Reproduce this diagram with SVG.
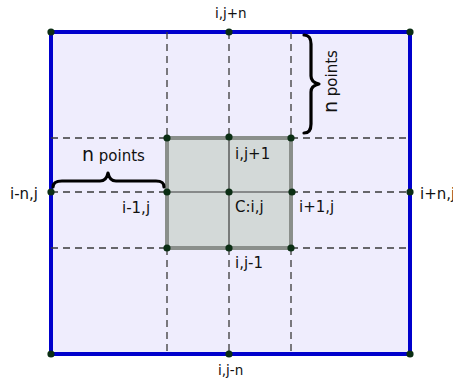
<svg xmlns="http://www.w3.org/2000/svg" width="453" height="382" viewBox="0 0 453 382">
<defs>
<style>
.lbl{font-family:"DejaVu Sans","Liberation Sans",sans-serif;font-size:15px;fill:#111}
.sm{font-size:13.5px}
.dash{stroke:#3a3a3a;stroke-width:1.3;stroke-dasharray:7,5;fill:none}
.pt{fill:#0b2e14}
.brace{fill:none;stroke:#000;stroke-width:3.2;stroke-linecap:round;stroke-linejoin:round}
.grid{stroke:#3c3c3c;stroke-width:1.2}
</style>
</defs>
<rect width="453" height="382" fill="#ffffff"/>
<g id="domain">
<rect x="51" y="32" width="359" height="322" fill="#efedfd" stroke="#0000cc" stroke-width="4"/>
</g>
<g id="connectors">
<line class="dash" x1="167" y1="32" x2="167" y2="138"/>
<line class="dash" x1="229" y1="32" x2="229" y2="138"/>
<line class="dash" x1="291" y1="32" x2="291" y2="138"/>
<line class="dash" x1="167" y1="248" x2="167" y2="354"/>
<line class="dash" x1="229" y1="248" x2="229" y2="354"/>
<line class="dash" x1="291" y1="248" x2="291" y2="354"/>
<line class="dash" x1="51" y1="138" x2="167" y2="138"/>
<line class="dash" x1="51" y1="192" x2="167" y2="192"/>
<line class="dash" x1="51" y1="248" x2="167" y2="248"/>
<line class="dash" x1="291" y1="138" x2="410" y2="138"/>
<line class="dash" x1="291" y1="192" x2="410" y2="192"/>
<line class="dash" x1="291" y1="248" x2="410" y2="248"/>
</g>
<g id="stencil">
<rect x="167" y="138" width="124" height="110" fill="#d3d9d8" stroke="#8a8f8b" stroke-width="4"/>
<line class="grid" x1="229" y1="138" x2="229" y2="248"/>
<line class="grid" x1="167" y1="192" x2="291" y2="192"/>
</g>
<g id="braces">
<path class="brace" d="M53,187 C53,182 57,181 62,181 L100,181 C105,181 107,178 108,173 C109,178 111,181 116,181 L156,181 C161,181 164,182 164,187"/>
<path class="brace" d="M304,35 C309,35 311,39 311,44 L311,76 C311,81 314,83 319,84 C314,85 311,87 311,92 L311,124 C311,129 309,133 304,133"/>
</g>
<g id="points">
<circle class="pt" cx="51" cy="32" r="3.6"/>
<circle class="pt" cx="229" cy="32" r="3.6"/>
<circle class="pt" cx="410" cy="32" r="3.6"/>
<circle class="pt" cx="167" cy="138" r="3.6"/>
<circle class="pt" cx="229" cy="137" r="3.6"/>
<circle class="pt" cx="291" cy="138" r="3.6"/>
<circle class="pt" cx="51" cy="192" r="3.6"/>
<circle class="pt" cx="167" cy="192" r="3.6"/>
<circle class="pt" cx="229" cy="192" r="3.6"/>
<circle class="pt" cx="292" cy="192" r="3.6"/>
<circle class="pt" cx="410" cy="192" r="3.6"/>
<circle class="pt" cx="167" cy="248" r="3.6"/>
<circle class="pt" cx="229" cy="248" r="3.6"/>
<circle class="pt" cx="291" cy="248" r="3.6"/>
<circle class="pt" cx="51" cy="354" r="3.6"/>
<circle class="pt" cx="229" cy="354" r="3.6"/>
<circle class="pt" cx="410" cy="354" r="3.6"/>
</g>
<g id="labels">
<text class="lbl sm" x="215" y="18">i,j+n</text>
<text class="lbl sm" x="218" y="375">i,j-n</text>
<text class="lbl" x="10" y="199">i-n,j</text>
<text class="lbl" x="420" y="199">i+n,j</text>
<text class="lbl" x="235" y="159">i,j+1</text>
<text class="lbl" x="235" y="212">C:i,j</text>
<text class="lbl" x="299" y="212">i+1,j</text>
<text class="lbl" x="122" y="213">i-1,j</text>
<text class="lbl" x="235" y="268">i,j-1</text>
<text class="lbl" x="82" y="161"><tspan style="font-size:19px">n</tspan><tspan> points</tspan></text>
<text class="lbl" transform="translate(337,113) rotate(-90)"><tspan style="font-size:19px">n</tspan><tspan> points</tspan></text>
</g>
</svg>
